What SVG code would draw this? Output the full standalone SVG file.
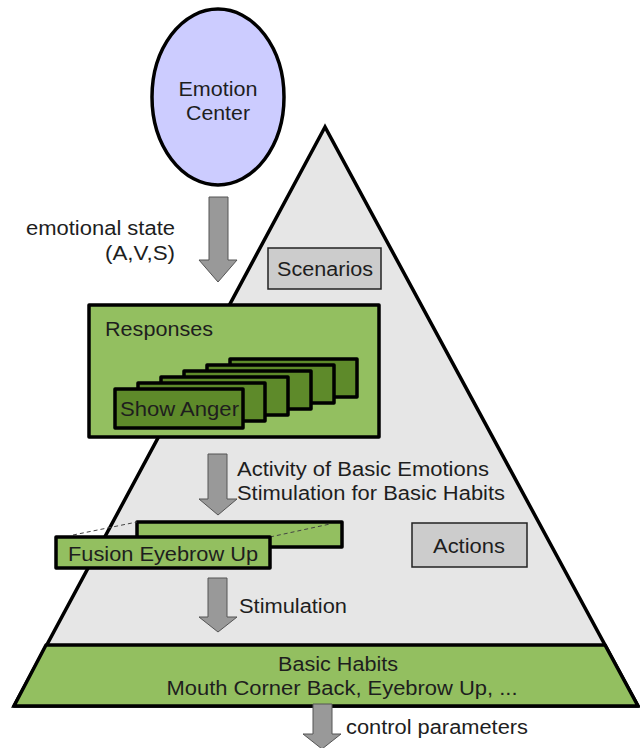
<svg xmlns="http://www.w3.org/2000/svg" width="640" height="748" viewBox="0 0 640 748">
  <style>
    text { font-family: "Liberation Sans", Arial, sans-serif; font-size: 20px; fill: #1e1e1e; }
    .mid { text-anchor: middle; }
    .end { text-anchor: end; }
    .green { fill: #93bf60; stroke: #000; stroke-width: 3.5; stroke-linejoin: round; }
    .card { fill: #5e8a2a; stroke: #000; stroke-width: 3.5; stroke-linejoin: round; }
    .label-box { fill: #cccccc; stroke: #222; stroke-width: 1.5; }
    .arrow { fill: #999999; stroke: #555; stroke-width: 1; }
    .dash { stroke: #444; stroke-width: 1; stroke-dasharray: 4 3; fill: none; }
  </style>

  <!-- pyramid of behaviour levels -->
  <g id="pyramid">
    <polygon points="325,127 14,706 638,706" fill="#e6e6e6" stroke="#000" stroke-width="3.5" stroke-linejoin="miter"/>
  </g>

  <g id="basic-habits">
    <polygon class="green" points="46,645 605,645 638,706 14,706"/>
    <text class="mid" x="338" y="671" textLength="120" lengthAdjust="spacingAndGlyphs">Basic Habits</text>
    <text class="mid" x="342" y="695" textLength="351" lengthAdjust="spacingAndGlyphs">Mouth Corner Back, Eyebrow Up, ...</text>
  </g>

  <g id="emotion-center">
    <ellipse cx="218" cy="97" rx="66" ry="88" fill="#ccccff" stroke="#000" stroke-width="3.5"/>
    <text class="mid" x="218" y="96" textLength="79" lengthAdjust="spacingAndGlyphs">Emotion</text>
    <text class="mid" x="218" y="120" textLength="64" lengthAdjust="spacingAndGlyphs">Center</text>
  </g>

  <g id="scenarios">
    <rect class="label-box" x="268" y="248" width="113" height="41"/>
    <text class="mid" x="325" y="276" textLength="96" lengthAdjust="spacingAndGlyphs">Scenarios</text>
  </g>

  <g id="actions">
    <rect class="label-box" x="412" y="523" width="115" height="44"/>
    <text class="mid" x="469" y="553" textLength="72" lengthAdjust="spacingAndGlyphs">Actions</text>
  </g>

  <g id="responses">
    <rect class="green" x="89" y="305" width="290" height="132"/>
    <text x="105" y="336" textLength="108" lengthAdjust="spacingAndGlyphs">Responses</text>
    <rect class="card" x="230" y="359" width="127" height="38"/>
    <rect class="card" x="207" y="365" width="127" height="38"/>
    <rect class="card" x="184" y="371" width="127" height="38"/>
    <rect class="card" x="161" y="377" width="127" height="38"/>
    <rect class="card" x="138" y="383" width="127" height="38"/>
    <rect class="card" x="115" y="389" width="128" height="39"/>
    <text x="120" y="416" textLength="119" lengthAdjust="spacingAndGlyphs">Show Anger</text>
  </g>

  <g id="fusion">
    <rect class="green" x="137" y="522" width="205" height="25"/>
    <line class="dash" x1="73" y1="535" x2="137" y2="522"/>
    <line class="dash" x1="270" y1="537" x2="330" y2="524"/>
    <rect class="green" x="56" y="537" width="214" height="31"/>
    <text x="68" y="561" textLength="190" lengthAdjust="spacingAndGlyphs">Fusion Eyebrow Up</text>
  </g>

  <!-- flow arrows between levels -->
  <g id="connectors">
    <polygon class="arrow" points="209,197 228,197 228,260 237,260 218,282 199,260 209,260"/>
    <polygon class="arrow" points="208,454 227,454 227,499 237,499 218,515 199,499 208,499"/>
    <polygon class="arrow" points="208,578 227,578 227,617 237,617 218,632 199,617 208,617"/>
    <polygon class="arrow" points="313,704 332,704 332,734 341,734 322,749 303,734 313,734"/>
    <text class="end" x="175" y="235" textLength="149" lengthAdjust="spacingAndGlyphs">emotional state</text>
    <text class="end" x="175" y="260" textLength="70" lengthAdjust="spacingAndGlyphs">(A,V,S)</text>
    <text x="237" y="476" textLength="252" lengthAdjust="spacingAndGlyphs">Activity of Basic Emotions</text>
    <text x="237" y="500" textLength="268" lengthAdjust="spacingAndGlyphs">Stimulation for Basic Habits</text>
    <text x="239" y="613" textLength="108" lengthAdjust="spacingAndGlyphs">Stimulation</text>
    <text x="346" y="734" textLength="182" lengthAdjust="spacingAndGlyphs">control parameters</text>
  </g>
</svg>
